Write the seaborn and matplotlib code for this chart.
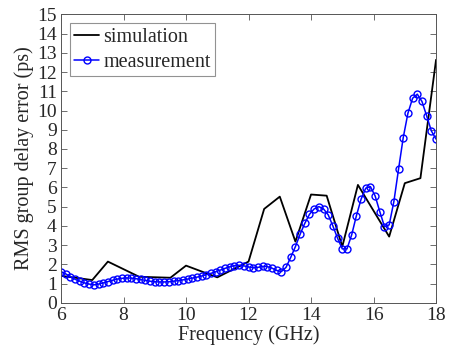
import numpy as np
import pandas as pd
import matplotlib
matplotlib.use('Agg')
import matplotlib.pyplot as plt
import seaborn as sns

# simulation (vertices of the black line)
sim_freq = [6.0, 7.0, 7.5, 8.5, 9.5, 10.0, 11.0, 12.0, 12.5, 13.0, 13.5, 14.0,
            14.5, 15.0, 15.5, 16.5, 17.0, 17.5, 18.0]
sim_err = [1.40, 1.18, 2.14, 1.35, 1.30, 1.93, 1.32, 2.14, 4.88, 5.52, 3.18, 5.63,
           5.57, 2.92, 6.13, 3.44, 6.22, 6.48, 12.64]

# measurement, 0.15 GHz steps from 6 to 18 GHz
meas_freq = [6.0 + 0.15 * i for i in range(81)]
meas_err = [1.62, 1.50, 1.35, 1.22, 1.12, 1.03, 0.97, 0.93, 0.97, 1.03,
            1.10, 1.17, 1.23, 1.27, 1.29, 1.28, 1.25, 1.21, 1.16, 1.12,
            1.09, 1.08, 1.08, 1.09, 1.12, 1.15, 1.19, 1.23, 1.28, 1.33,
            1.39, 1.46, 1.53, 1.61, 1.70, 1.79, 1.87, 1.93, 1.95, 1.92,
            1.86, 1.82, 1.84, 1.89, 1.88, 1.80, 1.68, 1.62, 1.84, 2.36,
            2.92, 3.56, 4.13, 4.60, 4.88, 5.00, 4.88, 4.57, 3.99, 3.35,
            2.80, 2.80, 3.53, 4.52, 5.38, 5.96, 6.04, 5.56, 4.74, 3.96,
            4.05, 5.26, 6.95, 8.59, 9.86, 10.64, 10.85, 10.47, 9.72, 8.94,
            8.51]

sim = pd.DataFrame({'freq': sim_freq, 'err': sim_err})
meas = pd.DataFrame({'freq': meas_freq, 'err': meas_err})

sns.set_style('ticks')
plt.rcParams['font.family'] = ['Liberation Serif', 'DejaVu Serif']

fig = plt.figure(figsize=(4.5, 3.52), dpi=100)
ax = fig.add_axes([0.1356, 0.14, 0.8334, 0.819])

sns.lineplot(data=sim, x='freq', y='err', ax=ax, color='black', linewidth=1.3,
             label='simulation', sort=False)
sns.lineplot(data=meas, x='freq', y='err', ax=ax, color='blue', linewidth=1.1,
             marker='o', markersize=5, markerfacecolor='none',
             markeredgecolor='blue', markeredgewidth=1.0,
             label='measurement', sort=False)

ax.set_xlim(6, 18)
ax.set_ylim(0, 15)
ax.set_xticks(np.arange(6, 19, 2))
ax.set_yticks(np.arange(0, 16, 1))
ax.tick_params(direction='in', top=True, right=True, length=4, width=0.6,
               labelsize=14, pad=3, color='#555555')
for s in ax.spines.values():
    s.set_visible(True)
    s.set_linewidth(0.7)
    s.set_color('#555555')

ax.set_xlabel('Frequency (GHz)', fontsize=14.5, labelpad=1)
ax.set_ylabel('RMS group delay error (ps)', fontsize=14.5, labelpad=2)

leg = ax.legend(loc='upper left', fontsize=14.5, frameon=True, fancybox=False,
                handlelength=1.25, handletextpad=0.2, borderpad=0.2,
                labelspacing=0.3, borderaxespad=0.45)
leg.get_frame().set_edgecolor('#777777')
leg.get_frame().set_linewidth(0.8)

fig.savefig('out.png', dpi=100)
